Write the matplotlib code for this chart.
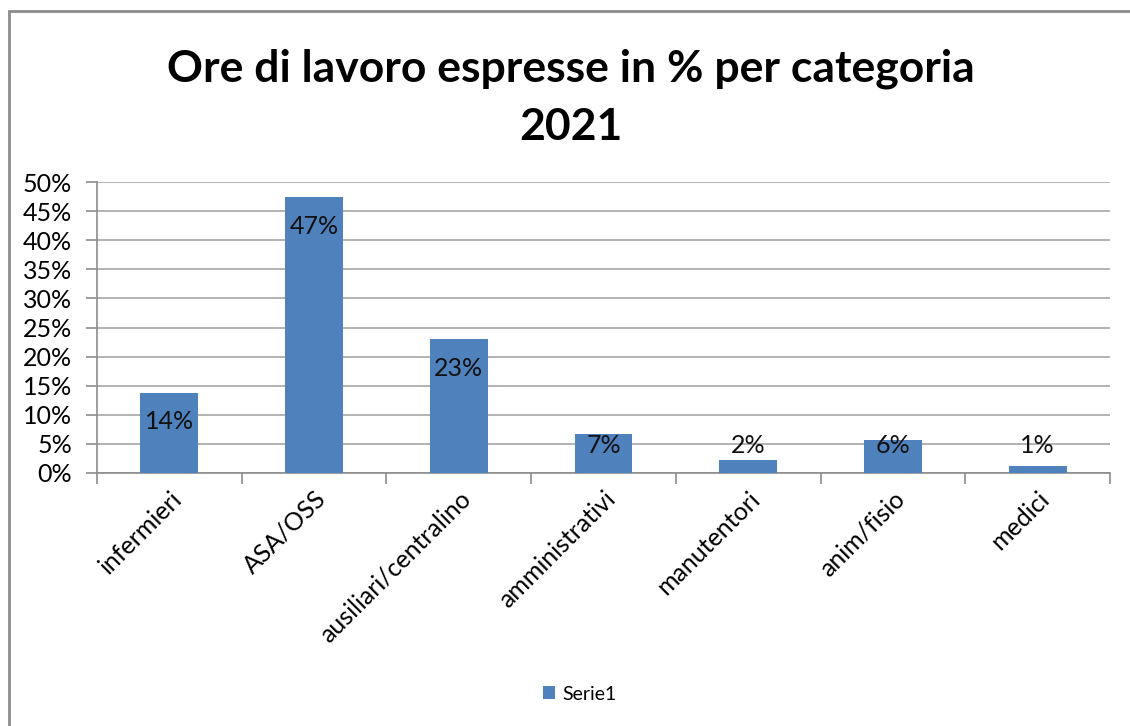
import matplotlib.pyplot as plt
from matplotlib.patches import Rectangle

categorie = ['infermieri', 'ASA/OSS', 'ausiliari/centralino', 'amministrativi',
             'manutentori', 'anim/fisio', 'medici']
percentuali = [13.8, 47.4, 23.0, 6.7, 2.3, 5.6, 1.2]
yticks = [0, 5, 10, 15, 20, 25, 30, 35, 40, 45, 50]

plt.rcParams['font.family'] = ['Lato', 'DejaVu Sans']

fig = plt.figure(figsize=(11.3, 7.26), dpi=100)
ax = fig.add_axes([97 / 1130, 1 - 473 / 726, (1110 - 97) / 1130, (473 - 182) / 726])

# cornice esterna del grafico
fig.patches.append(Rectangle((9 / 1130, -0.1), 1.2, 1.1 - 11 / 726,
                             transform=fig.transFigure, fill=False,
                             edgecolor='#8c8c8c', linewidth=2))

x = list(range(len(categorie)))
ax.bar(x, percentuali, width=0.4, color='#4F81BD', zorder=3, label='Serie1')

for xi, v in zip(x, percentuali):
    ax.text(xi, max(v - 5, 4.8), f'{v:.0f}%', ha='center', va='center',
            fontsize=18, color='#111111', zorder=4)

ax.set_xlim(-0.5, len(categorie) - 0.5)
ax.set_ylim(0, 50)
ax.set_yticks(yticks)
ax.set_yticklabels([f'{t}%' for t in yticks], fontsize=18)
ax.grid(axis='y', color='#a6a6a6', linewidth=1.2, zorder=0)

ax.set_xticks([i - 0.5 for i in range(len(categorie) + 1)])
ax.set_xticklabels([])
ax.set_xticks(x, minor=True)
ax.set_xticklabels(categorie, minor=True, rotation=45, ha='right',
                   rotation_mode='anchor', fontsize=18)
ax.tick_params(axis='x', which='minor', length=0, pad=10)
ax.tick_params(axis='x', which='major', length=8, color='#8c8c8c', width=1.2)
ax.tick_params(axis='y', length=8, color='#8c8c8c', width=1.2, pad=10)

for side in ['top', 'right']:
    ax.spines[side].set_visible(False)
for side in ['left', 'bottom']:
    ax.spines[side].set_color('#8c8c8c')
    ax.spines[side].set_linewidth(1.2)

fig.text(0.505, 1 - 98 / 726, 'Ore di lavoro espresse in % per categoria\n2021',
         ha='center', va='center', fontsize=32, fontweight='bold',
         linespacing=1.55)

fig.legend(loc='center', bbox_to_anchor=(580 / 1130, 1 - 694 / 726),
           frameon=False, fontsize=14, handlelength=0.6, handleheight=0.6,
           handletextpad=0.4)

fig.savefig('out.png', dpi=100)
